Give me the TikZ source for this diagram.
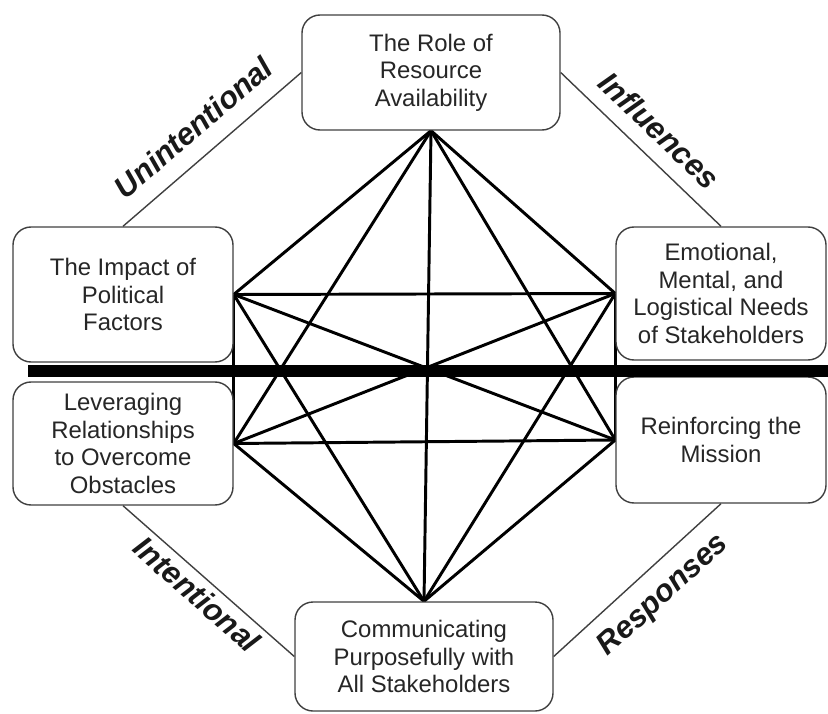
\documentclass[tikz,border=0pt]{standalone}
\usepackage{fontspec}
\setmainfont{Liberation Sans}
\usetikzlibrary{backgrounds}
\begin{document}
\begin{tikzpicture}
    \tikzstyle{box} = [draw=black!75, line width=1pt, fill=white, rounded corners=0.45cm, align=center, text=black!85, font=\fontsize{17}{19.6}\selectfont, inner sep=0pt]
    \tikzstyle{link} = [line width=2.1pt, black]
    \tikzstyle{rim} = [line width=1pt, black!75]
    \tikzstyle{tag} = [font=\fontsize{22}{26}\selectfont\bfseries\itshape, text=black!90, sloped]
    \tikzstyle{divider} = [line width=0.3cm, black]

    \useasboundingbox (0, 0) rectangle (20.7, 17.825);

    \node[box, minimum width=6.45cm, minimum height=2.875cm] (resource) at (10.775, 16.0125) {The Role of\\Resource\\Availability};
    \node[box, minimum width=6.45cm, minimum height=2.725cm] (communicate) at (10.6, 1.4125) {Communicating\\Purposefully with\\All Stakeholders};
    \node[box, minimum width=5.5cm, minimum height=3.375cm] (political) at (3.075, 10.4625) {The Impact of\\Political\\Factors};
    \node[box, minimum width=5.5cm, minimum height=3.075cm] (leverage) at (3.075, 6.7375) {Leveraging\\Relationships\\to Overcome\\Obstacles};
    \node[box, minimum width=5.25cm, minimum height=3.325cm] (needs) at (18.025, 10.4875) {Emotional,\\Mental, and\\Logistical Needs\\of Stakeholders};
    \node[box, minimum width=5.25cm, minimum height=3.15cm] (mission) at (18.025, 6.825) {Reinforcing the\\Mission};

    \begin{scope}[on background layer]
        \foreach \a/\b in {resource.south/political.east, resource.south/leverage.east, resource.south/communicate.north, resource.south/mission.west, resource.south/needs.west, political.east/needs.west, political.east/mission.west, political.east/communicate.north, political.east/leverage.east, leverage.east/needs.west, leverage.east/mission.west, leverage.east/communicate.north, needs.west/mission.west, needs.west/communicate.north, mission.west/communicate.north}
            \draw[link] (\a) -- (\b);

        \draw[rim] (political.north) -- node[tag, above=0.3cm] {Unintentional} (resource.west);
        \draw[rim] (resource.east) -- node[tag, above=0.25cm] {Influences} (needs.north);
        \draw[rim] (leverage.south) -- node[tag, below=0.02cm] {Intentional} (communicate.west);
        \draw[rim] (communicate.east) -- node[tag, below=0.25cm, pos=0.54] {Responses} (mission.south);
    \end{scope}

    \draw[divider] (0.7, 8.55) -- (20.7, 8.55);
\end{tikzpicture}
\end{document}
